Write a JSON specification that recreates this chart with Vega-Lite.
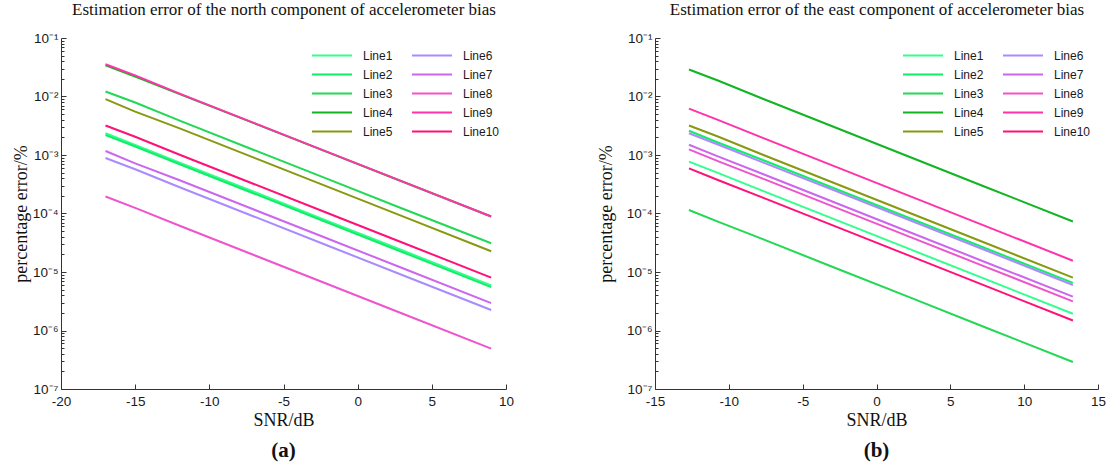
{
  "$schema": "https://vega.github.io/schema/vega-lite/v6.json",
  "background": "white",
  "padding": {"left": 12, "top": 0, "right": 5, "bottom": 5},
  "config": {
    "view": {"stroke": null},
    "concat": {"spacing": 83},
    "axis": {
      "grid": false,
      "domainColor": "#333333",
      "tickColor": "#333333",
      "labelColor": "#1a1a1a",
      "labelFont": "Liberation Sans",
      "labelFontSize": 13.5,
      "titleFont": "Liberation Serif",
      "titleFontSize": 18,
      "titleFontWeight": "normal",
      "titleColor": "#111111"
    },
    "legend": {
      "orient": "none",
      "legendX": 250,
      "legendY": 8,
      "direction": "vertical",
      "columns": 2,
      "symbolType": "stroke",
      "symbolSize": 1600,
      "symbolStrokeWidth": 2,
      "clipHeight": 19,
      "rowPadding": 0,
      "columnPadding": 18,
      "labelOffset": 10,
      "labelFont": "Liberation Sans",
      "labelFontSize": 12,
      "labelColor": "#1a1a1a",
      "padding": 0
    }
  },
  "resolve": {"scale": {"color": "independent"}, "legend": {"color": "independent"}},
  "datasets": {
    "a": [
      {"line": "Line1", "x": -17, "y": 2.35e-3}, {"line": "Line1", "x": -15, "y": 1.48e-3}, {"line": "Line1", "x": -12, "y": 7.4e-4}, {"line": "Line1", "x": -7, "y": 2.35e-4}, {"line": "Line1", "x": -2, "y": 7.4e-5}, {"line": "Line1", "x": 3, "y": 2.35e-5}, {"line": "Line1", "x": 9, "y": 5.9e-6},
      {"line": "Line2", "x": -17, "y": 2.2e-3}, {"line": "Line2", "x": -15, "y": 1.40e-3}, {"line": "Line2", "x": -12, "y": 6.95e-4}, {"line": "Line2", "x": -7, "y": 2.2e-4}, {"line": "Line2", "x": -2, "y": 6.95e-5}, {"line": "Line2", "x": 3, "y": 2.2e-5}, {"line": "Line2", "x": 9, "y": 5.5e-6},
      {"line": "Line3", "x": -17, "y": 1.22e-2}, {"line": "Line3", "x": -15, "y": 7.9e-3}, {"line": "Line3", "x": -12, "y": 3.86e-3}, {"line": "Line3", "x": -7, "y": 1.22e-3}, {"line": "Line3", "x": -2, "y": 3.86e-4}, {"line": "Line3", "x": 3, "y": 1.22e-4}, {"line": "Line3", "x": 9, "y": 3.1e-5},
      {"line": "Line4", "x": -17, "y": 3.4e-2}, {"line": "Line4", "x": -15, "y": 2.2e-2}, {"line": "Line4", "x": -12, "y": 1.1e-2}, {"line": "Line4", "x": -7, "y": 3.5e-3}, {"line": "Line4", "x": -2, "y": 1.11e-3}, {"line": "Line4", "x": 3, "y": 3.52e-4}, {"line": "Line4", "x": 9, "y": 8.9e-5},
      {"line": "Line5", "x": -17, "y": 9.0e-3}, {"line": "Line5", "x": -15, "y": 5.5e-3}, {"line": "Line5", "x": -12, "y": 2.85e-3}, {"line": "Line5", "x": -7, "y": 9.0e-4}, {"line": "Line5", "x": -2, "y": 2.85e-4}, {"line": "Line5", "x": 3, "y": 9.0e-5}, {"line": "Line5", "x": 9, "y": 2.26e-5},
      {"line": "Line6", "x": -17, "y": 8.9e-4}, {"line": "Line6", "x": -15, "y": 5.7e-4}, {"line": "Line6", "x": -12, "y": 2.81e-4}, {"line": "Line6", "x": -7, "y": 8.9e-5}, {"line": "Line6", "x": -2, "y": 2.81e-5}, {"line": "Line6", "x": 3, "y": 8.9e-6}, {"line": "Line6", "x": 9, "y": 2.24e-6},
      {"line": "Line7", "x": -17, "y": 1.17e-3}, {"line": "Line7", "x": -15, "y": 7.2e-4}, {"line": "Line7", "x": -12, "y": 3.7e-4}, {"line": "Line7", "x": -7, "y": 1.17e-4}, {"line": "Line7", "x": -2, "y": 3.7e-5}, {"line": "Line7", "x": 3, "y": 1.17e-5}, {"line": "Line7", "x": 9, "y": 2.94e-6},
      {"line": "Line8", "x": -17, "y": 1.95e-4}, {"line": "Line8", "x": -15, "y": 1.25e-4}, {"line": "Line8", "x": -12, "y": 6.17e-5}, {"line": "Line8", "x": -7, "y": 1.95e-5}, {"line": "Line8", "x": -2, "y": 6.17e-6}, {"line": "Line8", "x": 3, "y": 1.95e-6}, {"line": "Line8", "x": 9, "y": 4.9e-7},
      {"line": "Line9", "x": -17, "y": 3.55e-2}, {"line": "Line9", "x": -15, "y": 2.3e-2}, {"line": "Line9", "x": -12, "y": 1.12e-2}, {"line": "Line9", "x": -7, "y": 3.55e-3}, {"line": "Line9", "x": -2, "y": 1.12e-3}, {"line": "Line9", "x": 3, "y": 3.55e-4}, {"line": "Line9", "x": 9, "y": 8.9e-5},
      {"line": "Line10", "x": -17, "y": 3.2e-3}, {"line": "Line10", "x": -15, "y": 2.05e-3}, {"line": "Line10", "x": -12, "y": 1.01e-3}, {"line": "Line10", "x": -7, "y": 3.2e-4}, {"line": "Line10", "x": -2, "y": 1.01e-4}, {"line": "Line10", "x": 3, "y": 3.2e-5}, {"line": "Line10", "x": 9, "y": 8.0e-6}
    ],
    "b": [
      {"line": "Line1", "x": -12.7, "y": 7.7e-4}, {"line": "Line1", "x": -10.7, "y": 4.9e-4}, {"line": "Line1", "x": -7.7, "y": 2.43e-4}, {"line": "Line1", "x": -2.7, "y": 7.7e-5}, {"line": "Line1", "x": 2.3, "y": 2.43e-5}, {"line": "Line1", "x": 7.3, "y": 7.7e-6}, {"line": "Line1", "x": 13.3, "y": 1.93e-6},
      {"line": "Line2", "x": -12.7, "y": 2.6e-3}, {"line": "Line2", "x": -10.7, "y": 1.62e-3}, {"line": "Line2", "x": -7.7, "y": 8.2e-4}, {"line": "Line2", "x": -2.7, "y": 2.6e-4}, {"line": "Line2", "x": 2.3, "y": 8.2e-5}, {"line": "Line2", "x": 7.3, "y": 2.6e-5}, {"line": "Line2", "x": 13.3, "y": 6.5e-6},
      {"line": "Line3", "x": -12.7, "y": 1.15e-4}, {"line": "Line3", "x": -10.7, "y": 7.2e-5}, {"line": "Line3", "x": -7.7, "y": 3.64e-5}, {"line": "Line3", "x": -2.7, "y": 1.15e-5}, {"line": "Line3", "x": 2.3, "y": 3.64e-6}, {"line": "Line3", "x": 7.3, "y": 1.15e-6}, {"line": "Line3", "x": 13.3, "y": 2.9e-7},
      {"line": "Line4", "x": -12.7, "y": 2.9e-2}, {"line": "Line4", "x": -10.7, "y": 1.86e-2}, {"line": "Line4", "x": -7.7, "y": 9.17e-3}, {"line": "Line4", "x": -2.7, "y": 2.9e-3}, {"line": "Line4", "x": 2.3, "y": 9.17e-4}, {"line": "Line4", "x": 7.3, "y": 2.9e-4}, {"line": "Line4", "x": 13.3, "y": 7.3e-5},
      {"line": "Line5", "x": -12.7, "y": 3.2e-3}, {"line": "Line5", "x": -10.7, "y": 2.05e-3}, {"line": "Line5", "x": -7.7, "y": 1.01e-3}, {"line": "Line5", "x": -2.7, "y": 3.2e-4}, {"line": "Line5", "x": 2.3, "y": 1.01e-4}, {"line": "Line5", "x": 7.3, "y": 3.2e-5}, {"line": "Line5", "x": 13.3, "y": 8.0e-6},
      {"line": "Line6", "x": -12.7, "y": 2.35e-3}, {"line": "Line6", "x": -10.7, "y": 1.5e-3}, {"line": "Line6", "x": -7.7, "y": 7.5e-4}, {"line": "Line6", "x": -2.7, "y": 2.4e-4}, {"line": "Line6", "x": 2.3, "y": 7.6e-5}, {"line": "Line6", "x": 7.3, "y": 2.4e-5}, {"line": "Line6", "x": 13.3, "y": 6.0e-6},
      {"line": "Line7", "x": -12.7, "y": 1.5e-3}, {"line": "Line7", "x": -10.7, "y": 9.4e-4}, {"line": "Line7", "x": -7.7, "y": 4.74e-4}, {"line": "Line7", "x": -2.7, "y": 1.5e-4}, {"line": "Line7", "x": 2.3, "y": 4.74e-5}, {"line": "Line7", "x": 7.3, "y": 1.5e-5}, {"line": "Line7", "x": 13.3, "y": 3.8e-6},
      {"line": "Line8", "x": -12.7, "y": 1.25e-3}, {"line": "Line8", "x": -10.7, "y": 7.8e-4}, {"line": "Line8", "x": -7.7, "y": 3.95e-4}, {"line": "Line8", "x": -2.7, "y": 1.25e-4}, {"line": "Line8", "x": 2.3, "y": 3.95e-5}, {"line": "Line8", "x": 7.3, "y": 1.25e-5}, {"line": "Line8", "x": 13.3, "y": 3.14e-6},
      {"line": "Line9", "x": -12.7, "y": 6.2e-3}, {"line": "Line9", "x": -10.7, "y": 3.95e-3}, {"line": "Line9", "x": -7.7, "y": 1.96e-3}, {"line": "Line9", "x": -2.7, "y": 6.2e-4}, {"line": "Line9", "x": 2.3, "y": 1.96e-4}, {"line": "Line9", "x": 7.3, "y": 6.2e-5}, {"line": "Line9", "x": 13.3, "y": 1.56e-5},
      {"line": "Line10", "x": -12.7, "y": 5.9e-4}, {"line": "Line10", "x": -10.7, "y": 3.7e-4}, {"line": "Line10", "x": -7.7, "y": 1.87e-4}, {"line": "Line10", "x": -2.7, "y": 5.9e-5}, {"line": "Line10", "x": 2.3, "y": 1.87e-5}, {"line": "Line10", "x": 7.3, "y": 5.9e-6}, {"line": "Line10", "x": 13.3, "y": 1.48e-6}
    ]
  },
  "hconcat": [
    {
      "width": 445,
      "height": 351,
      "data": {"name": "a"},
      "title": {"text": "(a)", "orient": "bottom", "font": "Liberation Serif", "fontSize": 21, "fontWeight": "bold", "color": "#111111", "offset": 10},
      "layer": [
        {
          "mark": {"type": "line", "strokeWidth": 2, "clip": true},
          "encoding": {
            "x": {"field": "x", "type": "quantitative", "scale": {"domain": [-20, 10], "nice": false},
              "axis": {"title": "SNR/dB", "values": [-20, -15, -10, -5, 0, 5, 10], "labelExpr": "'' + datum.value", "labelFlush": false, "tickSize": -5, "labelPadding": 10, "titlePadding": 4}},
            "y": {"field": "y", "type": "quantitative", "scale": {"type": "log", "domain": [1e-7, 0.1], "nice": false},
              "axis": {"title": "percentage error/%", "values": [1e-7, 2e-7, 3e-7, 4e-7, 5e-7, 6e-7, 7e-7, 8e-7, 9e-7, 1e-6, 2e-6, 3e-6, 4e-6, 5e-6, 6e-6, 7e-6, 8e-6, 9e-6, 1e-5, 2e-5, 3e-5, 4e-5, 5e-5, 6e-5, 7e-5, 8e-5, 9e-5, 1e-4, 2e-4, 3e-4, 4e-4, 5e-4, 6e-4, 7e-4, 8e-4, 9e-4, 1e-3, 2e-3, 3e-3, 4e-3, 5e-3, 6e-3, 7e-3, 8e-3, 9e-3, 1e-2, 2e-2, 3e-2, 4e-2, 5e-2, 6e-2, 7e-2, 8e-2, 9e-2, 0.1],
                "labelExpr": "abs(log(datum.value)/LN10 - round(log(datum.value)/LN10)) < 0.001 ? '10' + ['⁻⁷','⁻⁶','⁻⁵','⁻⁴','⁻³','⁻²','⁻¹'][round(log(datum.value)/LN10) + 7] : ''",
                "labelOverlap": false,
                "tickSize": {"condition": {"test": "abs(log(datum.value)/LN10 - round(log(datum.value)/LN10)) < 0.001", "value": -5}, "value": -3},
                "labelPadding": 8,
                "titlePadding": 2}},
            "color": {"field": "line", "type": "nominal",
              "scale": {"domain": ["Line1", "Line2", "Line3", "Line4", "Line5", "Line6", "Line7", "Line8", "Line9", "Line10"],
                        "range": ["#33FF8F", "#11EE66", "#22D855", "#11B522", "#889911", "#A98BFF", "#CC66EE", "#EE55CC", "#FF33AA", "#FF1177"]},
              "legend": {"title": null}}
          }
        },
        {
          "mark": {"type": "point", "opacity": 0},
          "encoding": {
            "x": {"field": "x", "type": "quantitative",
              "axis": {"orient": "top", "title": "Estimation error of the north component of accelerometer bias", "labels": false, "ticks": false, "domain": false, "titlePadding": 20, "titleFontSize": 17}}
          }
        }
      ],
      "resolve": {"axis": {"x": "independent"}}
    },
    {
      "width": 443,
      "height": 351,
      "data": {"name": "b"},
      "title": {"text": "(b)", "orient": "bottom", "font": "Liberation Serif", "fontSize": 21, "fontWeight": "bold", "color": "#111111", "offset": 10},
      "layer": [
        {
          "mark": {"type": "line", "strokeWidth": 2, "clip": true},
          "encoding": {
            "x": {"field": "x", "type": "quantitative", "scale": {"domain": [-15, 15], "nice": false},
              "axis": {"title": "SNR/dB", "values": [-15, -10, -5, 0, 5, 10, 15], "labelExpr": "'' + datum.value", "labelFlush": false, "tickSize": -5, "labelPadding": 10, "titlePadding": 4}},
            "y": {"field": "y", "type": "quantitative", "scale": {"type": "log", "domain": [1e-7, 0.1], "nice": false},
              "axis": {"title": "percentage error/%", "values": [1e-7, 2e-7, 3e-7, 4e-7, 5e-7, 6e-7, 7e-7, 8e-7, 9e-7, 1e-6, 2e-6, 3e-6, 4e-6, 5e-6, 6e-6, 7e-6, 8e-6, 9e-6, 1e-5, 2e-5, 3e-5, 4e-5, 5e-5, 6e-5, 7e-5, 8e-5, 9e-5, 1e-4, 2e-4, 3e-4, 4e-4, 5e-4, 6e-4, 7e-4, 8e-4, 9e-4, 1e-3, 2e-3, 3e-3, 4e-3, 5e-3, 6e-3, 7e-3, 8e-3, 9e-3, 1e-2, 2e-2, 3e-2, 4e-2, 5e-2, 6e-2, 7e-2, 8e-2, 9e-2, 0.1],
                "labelExpr": "abs(log(datum.value)/LN10 - round(log(datum.value)/LN10)) < 0.001 ? '10' + ['⁻⁷','⁻⁶','⁻⁵','⁻⁴','⁻³','⁻²','⁻¹'][round(log(datum.value)/LN10) + 7] : ''",
                "labelOverlap": false,
                "tickSize": {"condition": {"test": "abs(log(datum.value)/LN10 - round(log(datum.value)/LN10)) < 0.001", "value": -5}, "value": -3},
                "labelPadding": 8,
                "titlePadding": 11}},
            "color": {"field": "line", "type": "nominal",
              "scale": {"domain": ["Line1", "Line2", "Line3", "Line4", "Line5", "Line6", "Line7", "Line8", "Line9", "Line10"],
                        "range": ["#33FF8F", "#11EE66", "#22D855", "#11B522", "#889911", "#A98BFF", "#CC66EE", "#EE55CC", "#FF33AA", "#FF1177"]},
              "legend": {"title": null, "legendX": 247}}
          }
        },
        {
          "mark": {"type": "point", "opacity": 0},
          "encoding": {
            "x": {"field": "x", "type": "quantitative",
              "axis": {"orient": "top", "title": "Estimation error of the east component of accelerometer bias", "labels": false, "ticks": false, "domain": false, "titlePadding": 20, "titleFontSize": 17}}
          }
        }
      ],
      "resolve": {"axis": {"x": "independent"}}
    }
  ]
}
